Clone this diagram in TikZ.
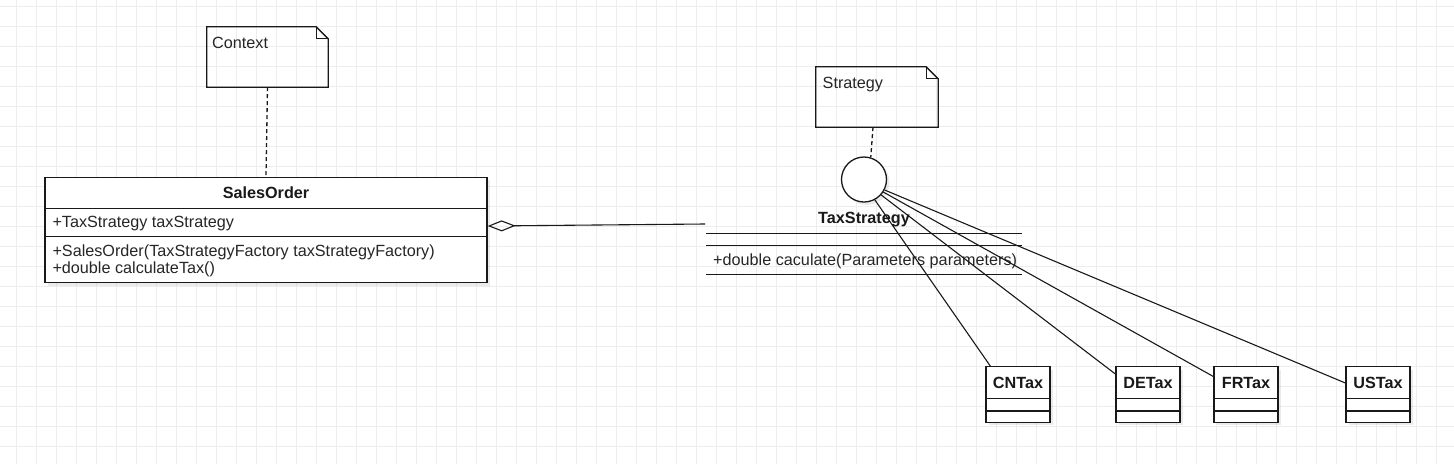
\documentclass[tikz,border=0pt]{standalone}
\usepackage{fontspec}
\setmainfont{Liberation Sans}
\usetikzlibrary{arrows.meta,calc,shadows}
\newcommand\notefold[1]{%
  \draw[stroke, line join=miter] (#1.north west) -- ($(#1.north east)+(-12,0)$) -- ($(#1.north east)+(0,12)$) -- (#1.south east) -- (#1.south west) -- cycle;
  \draw[stroke, line join=miter] ($(#1.north east)+(-12,0)$) -- ($(#1.north east)+(-12,12)$) -- ($(#1.north east)+(0,12)$);}
\newcommand\smallclass[3]{%
  \node[classbox, minimum width=64pt, minimum height=55.5pt] (#1) at (#2,394.5) {};
  \draw[stroke] (#1.west |- 0,398.5) -- (#1.east |- 0,398.5);
  \draw[stroke] (#1.west |- 0,411) -- (#1.east |- 0,411);
  \node[blbl, anchor=base] (#1t) at (#2,388.3) {#3};}
\begin{document}
\begin{tikzpicture}[x=1pt,y=-1pt,
  gridline/.style={draw=black!7, line width=1pt},
  stroke/.style={draw=black!90, line width=1.3pt},
  lbl/.style={inner sep=0pt, font=\fontsize{16.2}{19}\selectfont, text=black!85},
  blbl/.style={inner sep=0pt, font=\fontsize{16.2}{19}\selectfont\bfseries, text=black!90},
  classbox/.style={stroke, fill=white, inner sep=0pt, drop shadow={shadow xshift=3pt, shadow yshift=-3pt, opacity=0.08, fill=black}},
  notebox/.style={inner sep=0pt},
  dashedlink/.style={stroke, dash pattern=on 4pt off 3pt},
  rel/.style={stroke, line width=1.1pt},
]
\useasboundingbox (0,0) rectangle (1454,464);
\fill[white] (0,0) rectangle (1454,464);
\foreach \x in {16.5,36.5,...,1454} \draw[gridline] (\x,0) -- (\x,464);
\foreach \y in {6.5,26.5,...,464} \draw[gridline] (0,\y) -- (1454,\y);

% notes
\node[notebox, minimum width=121pt, minimum height=60pt] (ctx) at (267.5,57) {};
\notefold{ctx}
\node[lbl, anchor=base west] (ctxt) at (212,48.3) {Context};
\node[notebox, minimum width=122pt, minimum height=60pt] (stn) at (877,97) {};
\notefold{stn}
\node[lbl, anchor=base west] (stnt) at (822.5,88.3) {Strategy};

% SalesOrder
\node[classbox, minimum width=442pt, minimum height=105.5pt] (so) at (266,230) {};
\draw[stroke] (so.west |- 0,208.3) -- (so.east |- 0,208.3);
\draw[stroke] (so.west |- 0,236.7) -- (so.east |- 0,236.7);
\node[blbl, anchor=base] (soh) at (266,198.3) {SalesOrder};
\node[lbl, anchor=base west] (soa) at (52.3,227.8) {+TaxStrategy taxStrategy};
\node[lbl, anchor=base west] (som1) at (52.3,256.3) {+SalesOrder(TaxStrategyFactory taxStrategyFactory)};
\node[lbl, anchor=base west] (som2) at (52.3,273.3) {+double calculateTax()};

% interface circle
\node[circle, stroke, fill=white, minimum size=45pt, inner sep=0pt, drop shadow={shadow xshift=3pt, shadow yshift=-3pt, opacity=0.08, fill=black}] (ifc) at (864,179.5) {};

% TaxStrategy
\node[blbl, anchor=base] (tsh) at (864,223.5) {TaxStrategy};
\draw[stroke] (706,233.3) -- (1022,233.3);
\draw[stroke] (706,245.5) -- (1022,245.5);
\draw[stroke] (706,274.5) -- (1022,274.5);
\node[lbl, anchor=base west] (tsm) at (713,265) {+double caculate(Parameters parameters)};

% concrete classes
\smallclass{cn}{1018}{CNTax}
\smallclass{de}{1148}{DETax}
\smallclass{fr}{1246}{FRTax}
\smallclass{us}{1378}{USTax}

% connectors
\draw[dashedlink] (ctx.south) -- (so.north);
\draw[dashedlink] ($(stn.south)+(-4,0)$) -- (ifc.73);
\coordinate (aggend) at (705,224);
\draw[rel, -{Diamond[open, length=28pt, width=11pt]}] (aggend) -- ($(so.east)+(0,-4)$);
\draw[rel] (ifc.-62) -- ($(cn.north west)+(5,0)$);
\draw[rel] (ifc.-42) -- ($(de.west)+(0,-20.5)$);
\draw[rel] (ifc.-33) -- ($(fr.west)+(0,-18)$);
\draw[rel] (ifc.-27) -- ($(us.west)+(0,-11.5)$);
\end{tikzpicture}
\end{document}
